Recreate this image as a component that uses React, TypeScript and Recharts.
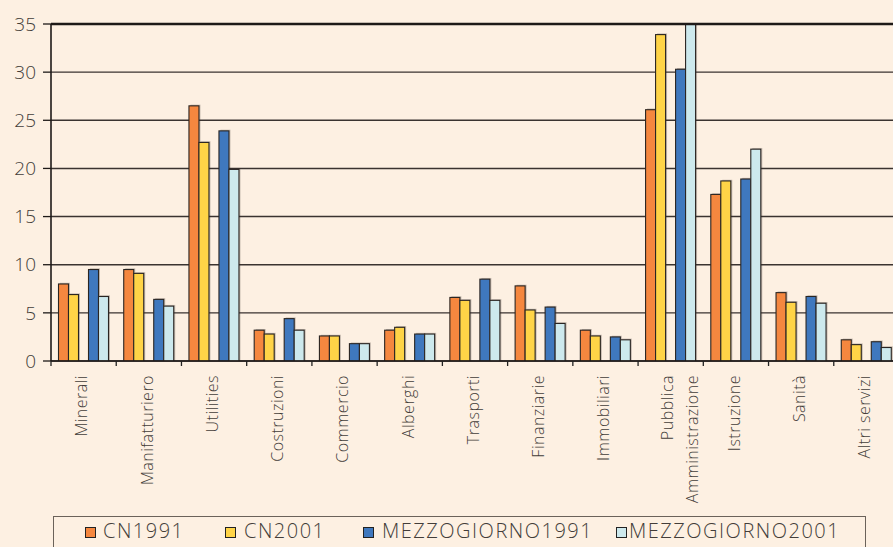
import React from "react";
import { BarChart, Bar, XAxis, YAxis, CartesianGrid, ReferenceLine } from "recharts";

const categories = [
  "Minerali",
  "Manifatturiero",
  "Utilities",
  "Costruzioni",
  "Commercio",
  "Alberghi",
  "Trasporti",
  "Finanziarie",
  "Immobiliari",
  "Pubblica\nAmministrazione",
  "Istruzione",
  "Sanità",
  "Altri servizi",
];

const cn1991 = [8.0, 9.5, 26.5, 3.2, 2.6, 3.2, 6.6, 7.8, 3.2, 26.1, 17.3, 7.1, 2.2];
const cn2001 = [6.9, 9.1, 22.7, 2.8, 2.6, 3.5, 6.3, 5.3, 2.6, 33.9, 18.7, 6.1, 1.7];
const mezz1991 = [9.5, 6.4, 23.9, 4.4, 1.8, 2.8, 8.5, 5.6, 2.5, 30.3, 18.9, 6.7, 2.0];
const mezz2001 = [6.7, 5.7, 19.9, 3.2, 1.8, 2.8, 6.3, 3.9, 2.2, 35.0, 22.0, 6.0, 1.4];

const yTicks = [0, 5, 10, 15, 20, 25, 30, 35];

const seriesNames = ["CN1991", "CN2001", "MEZZOGIORNO1991", "MEZZOGIORNO2001"];
const seriesKeys = ["cn1991", "cn2001", "mezz1991", "mezz2001"];
const seriesColors = ["#F5873F", "#FFD447", "#3F78BE", "#CDE9ED"];

const data = categories.map((c, i) => ({
  name: c,
  cn1991: cn1991[i],
  cn2001: cn2001[i],
  mezz1991: mezz1991[i],
  mezz2001: mezz2001[i],
}));

const BG = "#FDF0E2";
const TEXT = "#433d39";
const FONT = "'Open Sans', Lato, 'DejaVu Sans', sans-serif";

const CHART_W = 900;
const CHART_H = 547;
const M_LEFT = 6;
const Y_W = 45;
const M_RIGHT = 1;
const PLOT_W = CHART_W - M_LEFT - Y_W - M_RIGHT;
const BAND = PLOT_W / categories.length;

const BarShape = (props: any) => {
  const { x, y, width, height, fill } = props;
  if (!height || height <= 0) return null;
  return (
    <g>
      <rect x={x + 1.5} y={y - 1.2} width={width} height={height + 1.2} fill="rgba(60,50,45,0.28)" />
      <rect x={x} y={y} width={width} height={height} fill={fill} stroke="#2a2522" strokeWidth={1.1} />
    </g>
  );
};

const XTick = (props: any) => {
  const { x, y, payload, index } = props;
  const axisY = y - 8;
  const lines = String(payload.value).split("\n");
  const lineGap = 25;
  const top = 375;
  const last = index === categories.length - 1;
  return (
    <g>
      <line x1={x - BAND / 2} y1={axisY} x2={x - BAND / 2} y2={axisY + 5} stroke="#222" strokeWidth={1.3} />
      {last && (
        <line x1={x + BAND / 2} y1={axisY} x2={x + BAND / 2} y2={axisY + 5} stroke="#222" strokeWidth={1.3} />
      )}
      {lines.map((ln, k) => {
        const cx = lines.length === 1 ? x - 2 : x + (k - (lines.length - 1) / 2) * lineGap + 9;
        return (
          <text
            key={k}
            x={cx}
            y={top}
            transform={`rotate(-90, ${cx}, ${top})`}
            textAnchor="end"
            dy="0.36em"
            fontSize={16}
            fontWeight={300}
            fill={TEXT}
            fontFamily={FONT}
            letterSpacing={0.5}
          >
            {ln}
          </text>
        );
      })}
    </g>
  );
};

const legendPos = [
  { sq: 85, tx: 103 },
  { sq: 225, tx: 244 },
  { sq: 363, tx: 382 },
  { sq: 616, tx: 629 },
];

export default function App() {
  return (
    <div style={{ position: "fixed", left: 0, top: 0, width: 893, height: 547, background: BG, overflow: "hidden" }}>
      <BarChart
        width={CHART_W}
        height={CHART_H}
        data={data}
        margin={{ top: 24, right: M_RIGHT, left: M_LEFT, bottom: 0 }}
        barCategoryGap={7.5}
        barGap={0}
      >
        <CartesianGrid vertical={false} stroke="#3a3330" strokeWidth={1.4} />
        <XAxis
          dataKey="name"
          interval={0}
          height={186}
          tickLine={false}
          axisLine={{ stroke: "#1e1a18", strokeWidth: 1.6 }}
          tick={<XTick />}
        />
        <YAxis
          width={Y_W}
          domain={[0, 35]}
          ticks={yTicks}
          allowDataOverflow
          tickSize={8}
          tickMargin={7}
          tickLine={{ stroke: "#1e1a18", strokeWidth: 1.3 }}
          axisLine={{ stroke: "#1e1a18", strokeWidth: 1.6 }}
          tick={{ fontSize: 19, fill: TEXT, fontFamily: FONT, fontWeight: 300 }}
        />
        <ReferenceLine y={35} stroke="#1e1a18" strokeWidth={2.4} />
        <Bar dataKey="cn1991" name={seriesNames[0]} fill={seriesColors[0]} shape={<BarShape />} isAnimationActive={false} />
        <Bar dataKey="cn2001" name={seriesNames[1]} fill={seriesColors[1]} shape={<BarShape />} isAnimationActive={false} />
        <Bar dataKey="spacer" legendType="none" fill="none" isAnimationActive={false} />
        <Bar dataKey="mezz1991" name={seriesNames[2]} fill={seriesColors[2]} shape={<BarShape />} isAnimationActive={false} />
        <Bar dataKey="mezz2001" name={seriesNames[3]} fill={seriesColors[3]} shape={<BarShape />} isAnimationActive={false} />
      </BarChart>
      <div
        style={{
          position: "absolute",
          left: 53,
          top: 516,
          width: 813,
          height: 60,
          border: "1.5px solid #6b625a",
          boxSizing: "border-box",
        }}
      />
      {seriesNames.map((n, i) => (
        <React.Fragment key={seriesKeys[i]}>
          <div
            style={{
              position: "absolute",
              left: legendPos[i].sq,
              top: 527,
              width: 11,
              height: 11,
              background: seriesColors[i],
              border: "1.3px solid #222",
              boxSizing: "border-box",
            }}
          />
          <div
            style={{
              position: "absolute",
              left: legendPos[i].tx,
              top: 518,
              fontFamily: FONT,
              fontWeight: 300,
              fontSize: 20,
              lineHeight: "26px",
              color: TEXT,
              whiteSpace: "nowrap",
              letterSpacing: 1.5,
            }}
          >
            {n}
          </div>
        </React.Fragment>
      ))}
    </div>
  );
}
